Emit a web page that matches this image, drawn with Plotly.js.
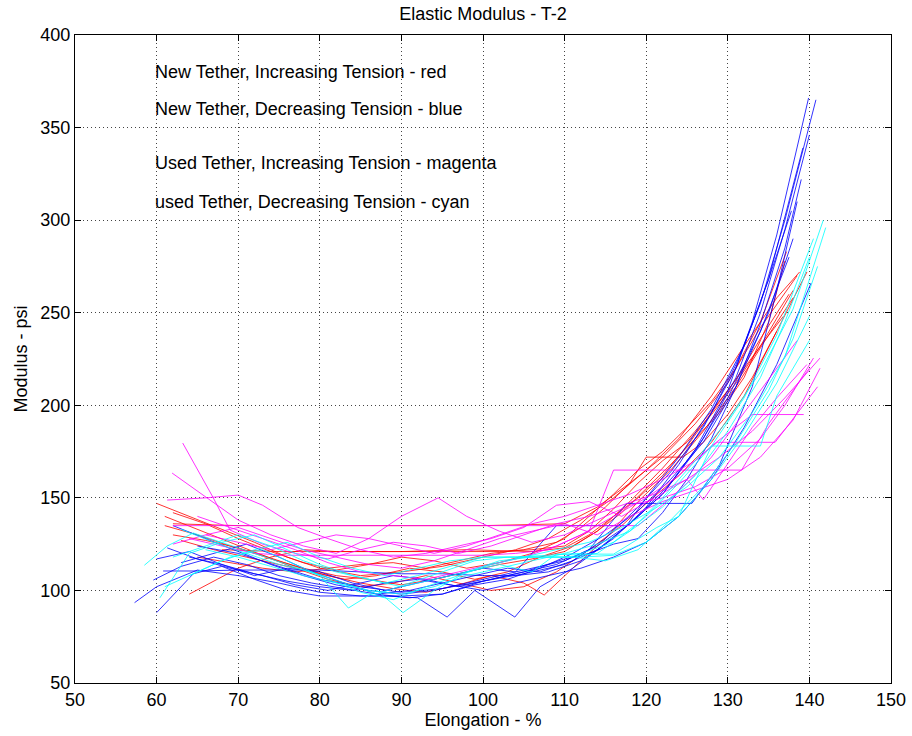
<!DOCTYPE html>
<html>
<head>
<meta charset="utf-8">
<script src="https://cdn.plot.ly/plotly-3.0.1.min.js"></script>
<style>html,body{margin:0;padding:0;background:#fff;}#chart{width:912px;height:736px;}</style>
</head>
<body>
<div id="chart"></div>
<script>
// New tether, increasing tension (red)
const newIncX = [
  [60, 64, 68, 72, 76, 80, 85, 90, 95, 100, 104, 108, 112, 116, 120, 124, 128, 132, 136, 138.8],
  [62, 70, 80, 90, 100, 110, 114, 118, 122, 126, 130, 134, 137.2],
  [64, 70, 74, 78, 82, 86, 90, 94, 98, 102, 106, 110, 113, 116, 119, 122, 125, 128, 131, 134, 136.8],
  [61, 65, 69, 73, 77, 81, 85, 89, 93, 97, 101, 105, 107.5, 111, 115, 119, 123, 127, 131, 135, 138],
  [62, 66, 70, 74, 78, 82, 86, 90, 94, 98, 102, 106, 110, 113, 116, 119, 122, 125, 128, 131, 134, 138.5],
  [63, 67, 71, 75, 79, 83, 87, 91, 95, 99, 103, 107, 111, 114, 117, 120, 123, 126, 129, 132, 135, 137],
  [68, 75, 82, 90, 98, 106, 110, 113, 116, 119, 122, 125, 128, 131, 134, 137.5],
  [61, 65, 69, 73, 77, 81, 85, 89, 93, 97, 101, 105, 109, 113, 117, 120, 124, 128, 132, 136, 139.7],
  [65, 69, 73, 77, 81, 85, 89, 93, 97, 101, 105, 109, 112, 115, 118, 120, 124.5, 127, 130, 133, 136],
  [62, 66, 70, 74, 78, 82, 86, 90, 94, 98, 102, 106, 110, 114, 118, 122, 126, 130, 134, 138]
];
const newIncY = [
  [147, 140, 133, 126, 118, 112, 108, 110, 113, 118, 122, 128, 138, 150, 165, 182, 205, 232, 258, 272],
  [136, 135, 135, 135, 135, 136, 145, 158, 172, 190, 212, 245, 283],
  [98, 112, 118, 122, 121, 121, 121, 121, 121, 121, 122, 124, 132, 144, 158, 170, 180, 195, 212, 232, 248],
  [135, 130, 124, 119, 113, 108, 104, 101, 99, 103, 108, 104, 97.5, 112, 128, 148, 165, 186, 210, 238, 258],
  [142, 136, 128, 121, 115, 111, 114, 118, 116, 112, 115, 120, 128, 140, 152, 165, 175, 188, 202, 220, 242, 270],
  [127, 122, 118, 114, 110, 106, 108, 112, 110, 106, 110, 118, 124, 132, 142, 155, 168, 182, 196, 215, 245, 278],
  [122, 121, 121, 121, 122, 121, 123, 130, 140, 150, 162, 178, 196, 214, 236, 260],
  [140, 133, 126, 119, 112, 106, 102, 104, 108, 104, 100, 102, 110, 122, 135, 147, 162, 180, 205, 240, 272],
  [118, 115, 112, 110, 112, 114, 115, 112, 116, 120, 122, 126, 134, 145, 158, 172, 172, 180, 195, 215, 240],
  [130, 127, 123, 117, 112, 108, 106, 103, 106, 110, 114, 117, 121, 132, 148, 166, 186, 208, 232, 262]
];
// New tether, decreasing tension (blue)
const newDecX = [
  [57.3, 60, 65, 70, 75, 80, 85, 90, 95, 100, 105, 110, 114, 118, 122, 126, 130, 133, 136, 138, 139.9],
  [60.8, 65, 70, 75, 80, 85, 90, 95, 100, 104, 108, 112, 116, 120, 124, 128, 131, 134, 137, 140.8],
  [60, 64.5, 68, 72, 76, 80, 84, 88, 92, 95.6, 99, 103.9, 107, 111, 115, 119, 123, 127, 131, 134, 137, 140],
  [59.6, 63, 67, 71, 75, 79, 83, 87, 91, 95, 99, 103, 107, 111, 115, 119, 123, 127, 131, 135, 139.2],
  [61.3, 65, 69, 73, 77, 81, 85, 89, 93, 97, 101, 105, 109, 113, 117.6, 125.6, 129, 133, 136, 138.5],
  [62, 66, 70, 74, 78, 82, 86, 90, 94, 98, 102, 106, 110, 114, 118, 122, 126, 130, 134, 137.5],
  [63, 67, 71, 75, 79, 83, 87, 91, 95, 99, 103, 107, 111, 115, 119, 123, 127, 131, 135, 138],
  [64, 68, 72, 76, 80, 84, 88, 92, 96, 100, 104, 108, 112, 116, 120, 124, 128, 132, 136, 140.2],
  [60, 64, 68, 72, 76, 80, 84, 88, 92, 96, 100, 104, 109, 117.6, 120, 124, 128, 132, 135, 137.8],
  [65, 70, 75, 80, 85, 90, 95, 100, 105, 110, 113, 116, 119, 122, 125, 128, 131, 134, 137, 139]
];
const newDecY = [
  [93.4, 102, 111, 108, 104, 99, 97, 97, 98, 105, 109, 114, 122, 136, 152, 176, 208, 245, 292, 330, 366],
  [110.5, 110.5, 111, 111, 111, 110, 109, 109, 108, 108, 110, 116, 128, 145, 168, 196, 222, 255, 300, 365],
  [88, 109, 113, 106, 100, 97, 97, 97, 96, 85.6, 100, 85.6, 102, 112, 125, 140, 158, 182, 215, 250, 295, 346],
  [105.6, 113, 118, 114, 108, 104, 101, 98, 100, 104, 108, 112, 110, 116, 128, 145, 164, 188, 220, 268, 339],
  [123, 117, 112, 108, 103, 100, 104, 108, 106, 102, 106, 110, 114, 122, 147, 147, 168, 210, 262, 310],
  [135, 128, 121, 114, 108, 103, 100, 98, 100, 104, 108, 112, 116, 124, 136, 152, 175, 204, 240, 280],
  [115, 120, 125, 118, 110, 104, 98, 96, 98, 103, 106, 112, 120, 130, 143, 160, 180, 210, 250, 290],
  [118, 114, 109, 105, 102, 100, 104, 106, 103, 100, 104, 108, 112, 118, 126, 140, 160, 188, 222, 266],
  [117, 121, 114, 108, 112, 110, 104, 100, 104, 108, 112, 110, 135, 135, 150, 172, 198, 232, 268, 305],
  [124, 120, 113, 106, 102, 99, 101, 105, 110, 117, 120, 125, 128, 142, 160, 182, 210, 244, 285, 322]
];
// Used tether, increasing tension (magenta)
const usedIncX = [
  [63.2, 66.9, 69, 73, 77, 81, 85, 89, 93, 97, 101, 105, 109, 113, 117, 121, 125, 129, 133, 137, 141.3],
  [61.9, 66.9, 70, 74, 78, 82, 86, 90, 94.5, 98, 102, 106, 110, 114, 118, 122, 126, 130, 134, 137, 140.5],
  [61.3, 66, 70, 73, 77.3, 81, 85, 89, 93, 97, 101, 105, 109, 113, 117, 121, 125, 127, 133, 136, 139.7],
  [62, 70, 80, 90, 100, 110, 119, 122, 125, 128, 131, 134, 138.5],
  [64, 68, 72, 76, 80, 84, 88, 92, 96, 100, 104, 108, 112, 116, 120, 124, 128, 133, 139.3],
  [65, 69, 73, 77, 81, 85, 89, 93, 97, 101, 105, 109, 113, 116, 131.7, 135, 140],
  [66, 70, 74, 78, 82, 86, 90, 94, 98, 102, 106, 110, 114, 118, 122, 126, 128.7, 135.8, 141],
  [62, 66, 70, 74, 78, 82, 86, 90, 94, 98, 102, 106, 110, 114, 118, 122, 126, 130, 134, 138, 141.3]
];
const usedIncY = [
  [179.6, 150.4, 132.6, 125, 120, 117, 122, 126, 124, 120, 124, 130, 136, 140, 146, 152, 160, 172, 186, 204, 225.5],
  [163.4, 148, 138, 130, 124, 120, 128, 140, 150, 140, 132, 126, 130, 138, 146, 150, 156, 166, 182, 200, 225.5],
  [148.8, 150, 151.5, 146, 134, 128, 122, 118, 120, 124, 128, 134, 146, 148, 140, 150, 160, 149, 188, 204, 222],
  [135, 135, 135, 135, 135, 135, 135, 146, 158, 172, 190, 208, 235],
  [128, 124, 120, 119, 119, 119, 119, 119, 119, 119, 120, 122, 130, 140, 150, 162, 178, 195, 195],
  [140, 134, 128, 122, 115, 110, 108, 106, 110, 114, 118, 124, 132, 165, 165, 190, 220],
  [130, 126, 122, 126, 130, 128, 124, 120, 124, 130, 136, 140, 146, 152, 160, 170, 180, 180, 210],
  [125, 130, 134, 128, 122, 118, 114, 112, 116, 122, 128, 132, 136, 130, 140, 148, 154, 160, 172, 192, 220]
];
// Used tether, decreasing tension (cyan)
const usedDecX = [
  [58.5, 61.3, 64.5, 68, 72, 76, 80, 83.5, 87, 90.2, 94, 98, 102, 106, 110, 114, 118, 122, 126, 130, 134, 138, 141.7],
  [60.4, 64, 68, 72, 76, 80, 84, 88, 92, 96, 100, 104, 108, 112, 116, 120, 124, 128, 132, 136, 140.5],
  [63, 67, 71, 75, 79, 83, 87, 91, 95, 99, 103, 107, 111, 115, 119, 123, 127, 131, 135, 138, 141],
  [62, 66, 70, 74, 78, 82, 86, 90, 94, 98, 102, 106, 109, 116, 121.3, 124, 128, 132, 136, 140],
  [64, 68, 72, 76, 80, 84, 88, 92, 96, 100, 104, 108, 112, 116, 120, 124, 128, 134, 136, 140],
  [61, 65, 69, 73, 77, 81, 85, 89, 93, 97, 101, 105, 109, 113, 117, 121, 125, 129, 133, 137, 142],
  [66, 70, 74, 78, 82, 86, 90, 94, 98, 102, 106, 110, 114, 118, 122, 126, 130, 134, 137, 140]
];
const usedDecY = [
  [113.6, 124, 131, 126, 120, 114, 108, 90.5, 100, 88, 100, 110, 116, 118, 118, 120, 132, 150, 170, 192, 218, 252, 300],
  [96, 120, 126, 130, 122, 114, 108, 104, 108, 113, 118, 118, 119, 120, 126, 140, 158, 178, 204, 238, 290],
  [133, 126, 120, 114, 110, 104, 98, 104, 110, 116, 118, 118, 118, 116, 122, 138, 156, 180, 208, 236, 275],
  [118, 124, 130, 124, 116, 110, 106, 102, 106, 110, 114, 110, 119.6, 119.6, 134, 140, 160, 184, 212, 248],
  [108, 116, 122, 126, 118, 112, 108, 112, 116, 118, 118, 118, 118, 119, 126, 140, 178, 178, 205, 235],
  [102, 110, 118, 122, 114, 106, 99, 95, 102, 108, 114, 118, 122, 126, 134, 144, 156, 172, 196, 226, 296],
  [122, 118, 113, 108, 104, 100, 98, 102, 108, 112, 116, 120, 125, 132, 145, 162, 186, 215, 245, 280]
];

const groups = [
  {xs: newIncX, ys: newIncY, color: '#ff0000'},
  {xs: newDecX, ys: newDecY, color: '#0000ff'},
  {xs: usedIncX, ys: usedIncY, color: '#ff00ff'},
  {xs: usedDecX, ys: usedDecY, color: '#00ffff'}
];

const notes = [
  {text: 'New Tether, Increasing Tension - red', x: 59.6, y: 380},
  {text: 'New Tether, Decreasing Tension - blue', x: 59.6, y: 360},
  {text: 'Used Tether, Increasing Tension - magenta', x: 59.6, y: 331},
  {text: 'used Tether, Decreasing Tension - cyan', x: 59.6, y: 310}
];

const traces = [];
groups.forEach(g => {
  g.xs.forEach((xArr, i) => {
    traces.push({
      x: xArr, y: g.ys[i], type: 'scatter', mode: 'lines',
      line: {color: g.color, width: 1}, opacity: 0.8,
      hoverinfo: 'skip', showlegend: false
    });
  });
});

const fontFam = '"Liberation Sans", Arial, sans-serif';
const txtFont = {family: fontFam, size: 18, color: '#000'};
const axisCommon = {
  showline: true, linecolor: '#000', linewidth: 1, mirror: 'ticks',
  ticks: 'inside', ticklen: 6, tickcolor: '#000',
  showgrid: true, gridcolor: '#444', griddash: '1px,3px', gridwidth: 1,
  zeroline: false, tickfont: txtFont
};

const layout = {
  width: 912, height: 736,
  margin: {l: 75, r: 21, t: 35, b: 53},
  paper_bgcolor: '#fff', plot_bgcolor: '#fff',
  font: txtFont,
  title: {text: 'Elastic Modulus - T-2', font: txtFont,
          x: 0.5, xref: 'paper', y: 0.982, yref: 'container', yanchor: 'middle'},
  xaxis: Object.assign({}, axisCommon, {
    range: [50, 150], tickvals: [50, 60, 70, 80, 90, 100, 110, 120, 130, 140, 150],
    title: {text: 'Elongation - %', font: txtFont, standoff: 2}
  }),
  yaxis: Object.assign({}, axisCommon, {
    range: [50, 400], tickvals: [50, 100, 150, 200, 250, 300, 350, 400],
    title: {text: 'Modulus - psi', font: txtFont, standoff: 8}
  }),
  showlegend: false,
  annotations: notes.map(n => ({
    text: n.text, x: n.x, y: n.y, xref: 'x', yref: 'y',
    xanchor: 'left', yanchor: 'middle', showarrow: false,
    font: txtFont
  }))
};

Plotly.newPlot('chart', traces, layout, {staticPlot: true, displayModeBar: false});
</script>
</body>
</html>
